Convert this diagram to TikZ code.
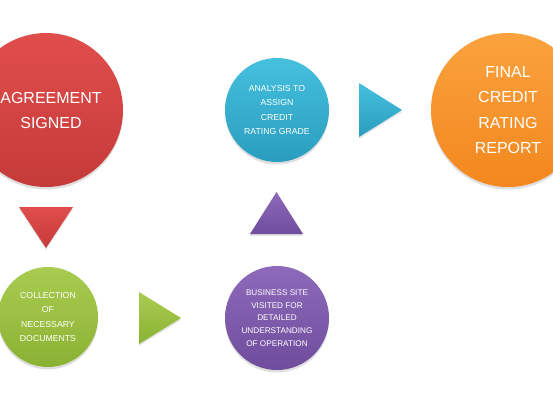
\documentclass[tikz,border=0pt]{standalone}
\usepackage{fontspec}
\setmainfont{Liberation Sans}
\usetikzlibrary{shadows}
\definecolor{redT}{HTML}{E04E4C}\definecolor{redB}{HTML}{C53A3A}
\definecolor{grnT}{HTML}{A9CC50}\definecolor{grnB}{HTML}{8BB234}
\definecolor{purT}{HTML}{8E6ABA}\definecolor{purB}{HTML}{6F4C9C}
\definecolor{bluT}{HTML}{45C0DE}\definecolor{bluB}{HTML}{2A9DBE}
\definecolor{orgT}{HTML}{FAA23E}\definecolor{orgB}{HTML}{F3871E}
\tikzset{
  ball/.style={circle, inner sep=0pt, text=white, align=center,
    drop shadow={opacity=0.25, shadow xshift=0pt, shadow yshift=-2.5pt}},
  bigtext/.style={font=\fontsize{16}{25.5}\selectfont},
  smalltext/.style={font=\fontsize{8.7}{14.2}\selectfont},
  tinytext/.style={font=\fontsize{8.2}{12.8}\selectfont},
  tri/.style={drop shadow={opacity=0.2, shadow xshift=0pt, shadow yshift=-2pt}},
}
\begin{document}
\begin{tikzpicture}[x=1pt,y=-1pt]
\useasboundingbox (0,0) rectangle (553,400);
\clip (0,0) rectangle (553,400);
\fill[white] (0,0) rectangle (553,400);
% circles
\node[ball, minimum size=154pt, top color=redT, bottom color=redB] (agr) at (46,110) {};
\node[bigtext, text=white, align=center, inner sep=0pt] (agrt) at (51,110.5) {AGREEMENT\\SIGNED};
\node[ball, minimum size=100pt, top color=grnT, bottom color=grnB, smalltext] (col) at (48,317) {COLLECTION\\OF\\NECESSARY\\DOCUMENTS};
\node[ball, minimum size=104pt, top color=purT, bottom color=purB, tinytext] (bus) at (277,318) {BUSINESS SITE\\VISITED FOR\\DETAILED\\UNDERSTANDING\\OF OPERATION};
\node[ball, minimum size=104pt, top color=bluT, bottom color=bluB, smalltext] (ana) at (277,110) {ANALYSIS TO\\ASSIGN\\CREDIT\\RATING GRADE};
\node[ball, minimum size=154pt, top color=orgT, bottom color=orgB, bigtext] (fin) at (508,110) {FINAL\\CREDIT\\RATING\\REPORT};
% triangles
\path[tri, top color=redT, bottom color=redB] (19,207) -- (73,207) -- (46,248) -- cycle;
\path[tri, top color=grnT, bottom color=grnB] (139,292) -- (181,318) -- (139,344) -- cycle;
\path[tri, top color=purT, bottom color=purB] (250,234) -- (276.5,192) -- (303,234) -- cycle;
\path[tri, top color=bluT, bottom color=bluB] (359,83) -- (402,110) -- (359,137) -- cycle;
\end{tikzpicture}
\end{document}
